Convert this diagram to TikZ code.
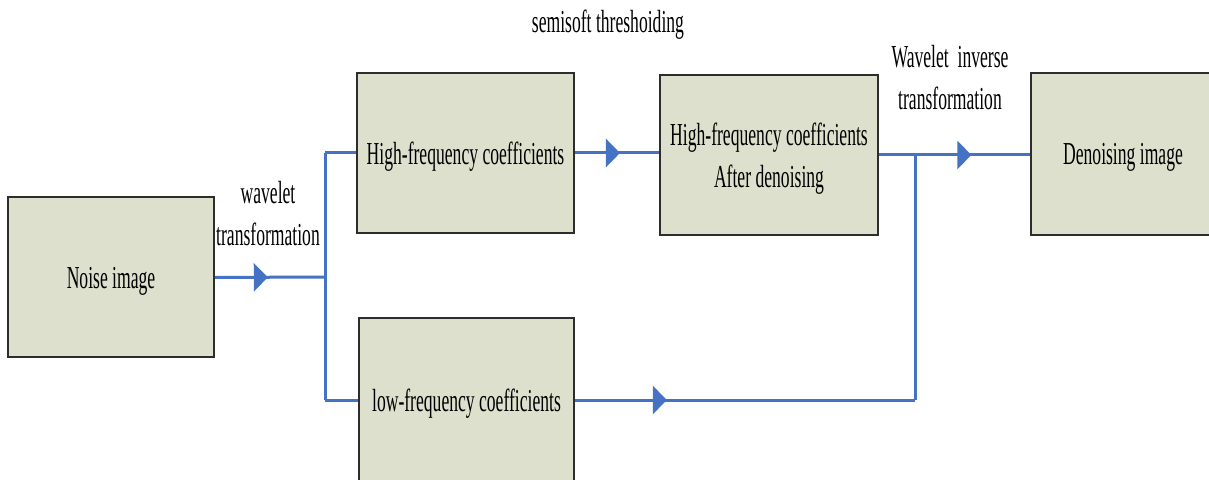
\documentclass[tikz,border=0pt]{standalone}
\usepackage{fontspec}
\setmainfont[FakeStretch=0.55]{Liberation Serif}
\usetikzlibrary{arrows.meta,decorations.markings}
\definecolor{boxfill}{RGB}{221,224,204}
\definecolor{linkblue}{RGB}{70,114,196}
\definecolor{boxline}{RGB}{45,45,45}
\tikzset{
  block/.style={draw=boxline,line width=1pt,fill=boxfill,align=center,inner sep=0pt,text depth=0pt},
  link/.style={color=linkblue,line width=1.5pt},
  midarrow/.style={postaction={decorate},
    decoration={markings,mark=at position #1 with {\arrow{Triangle[length=7pt,width=14pt]}}}}
}
\begin{document}
\begin{tikzpicture}[x=0.5pt,y=-0.5pt,font=\fontsize{16pt}{21pt}\selectfont]
            \useasboundingbox (0,0) rectangle (1209,480);
            \clip (0,0) rectangle (1209,480);

            % draw the blocks
            \node[block,minimum width=103pt,minimum height=80pt] (noise) at (111,277.5) {Noise image};
            \node[block,minimum width=108.5pt,minimum height=80pt] (high) at (465.5,153) {High-frequency coefficients};
            \node[block,minimum width=107.5pt,minimum height=82pt] (low) at (466.5,400) {low-frequency coefficients};
            \node[block,minimum width=109pt,minimum height=80pt] (den) at (769,155) {High-frequency coefficients\\After denoising};
            \node[block,minimum width=92pt,minimum height=81pt] (out) at (1123,154) {Denoising image};

            % branch and join points
            \coordinate (split) at (325,277);
            \coordinate (hiin) at (325,153);
            \coordinate (loin) at (325,400);
            \coordinate (jtop) at (915,155);
            \coordinate (jbot) at (915,400);

            % wavelet transformation
            \draw[link,midarrow=0.48] (noise.east) -- (split);
            \draw[link] (hiin) -- (loin);
            \draw[link] (hiin) -- (hiin -| high.west);
            \draw[link] (loin) -- (loin -| low.west);

            % thresholding
            \draw[link,midarrow=0.535] (high.east) -- (high.east -| den.west);

            % inverse transformation
            \draw[link] (den.east) -- (jtop);
            \draw[link] (jtop) -- (jbot);
            \draw[link,midarrow=0.27] (jbot -| low.east) -- (jbot);
            \draw[link,midarrow=0.49] (jtop) -- (jtop -| out.west);

            % text over the links
            \node[align=center] (wt) at (268,214) {wavelet\\transformation};
            \node (st) at (608,25) {semisoft threshoiding};
            \node[align=center] (wit) at (950,78) {Wavelet\ \ inverse\\transformation};
\end{tikzpicture}
\end{document}
